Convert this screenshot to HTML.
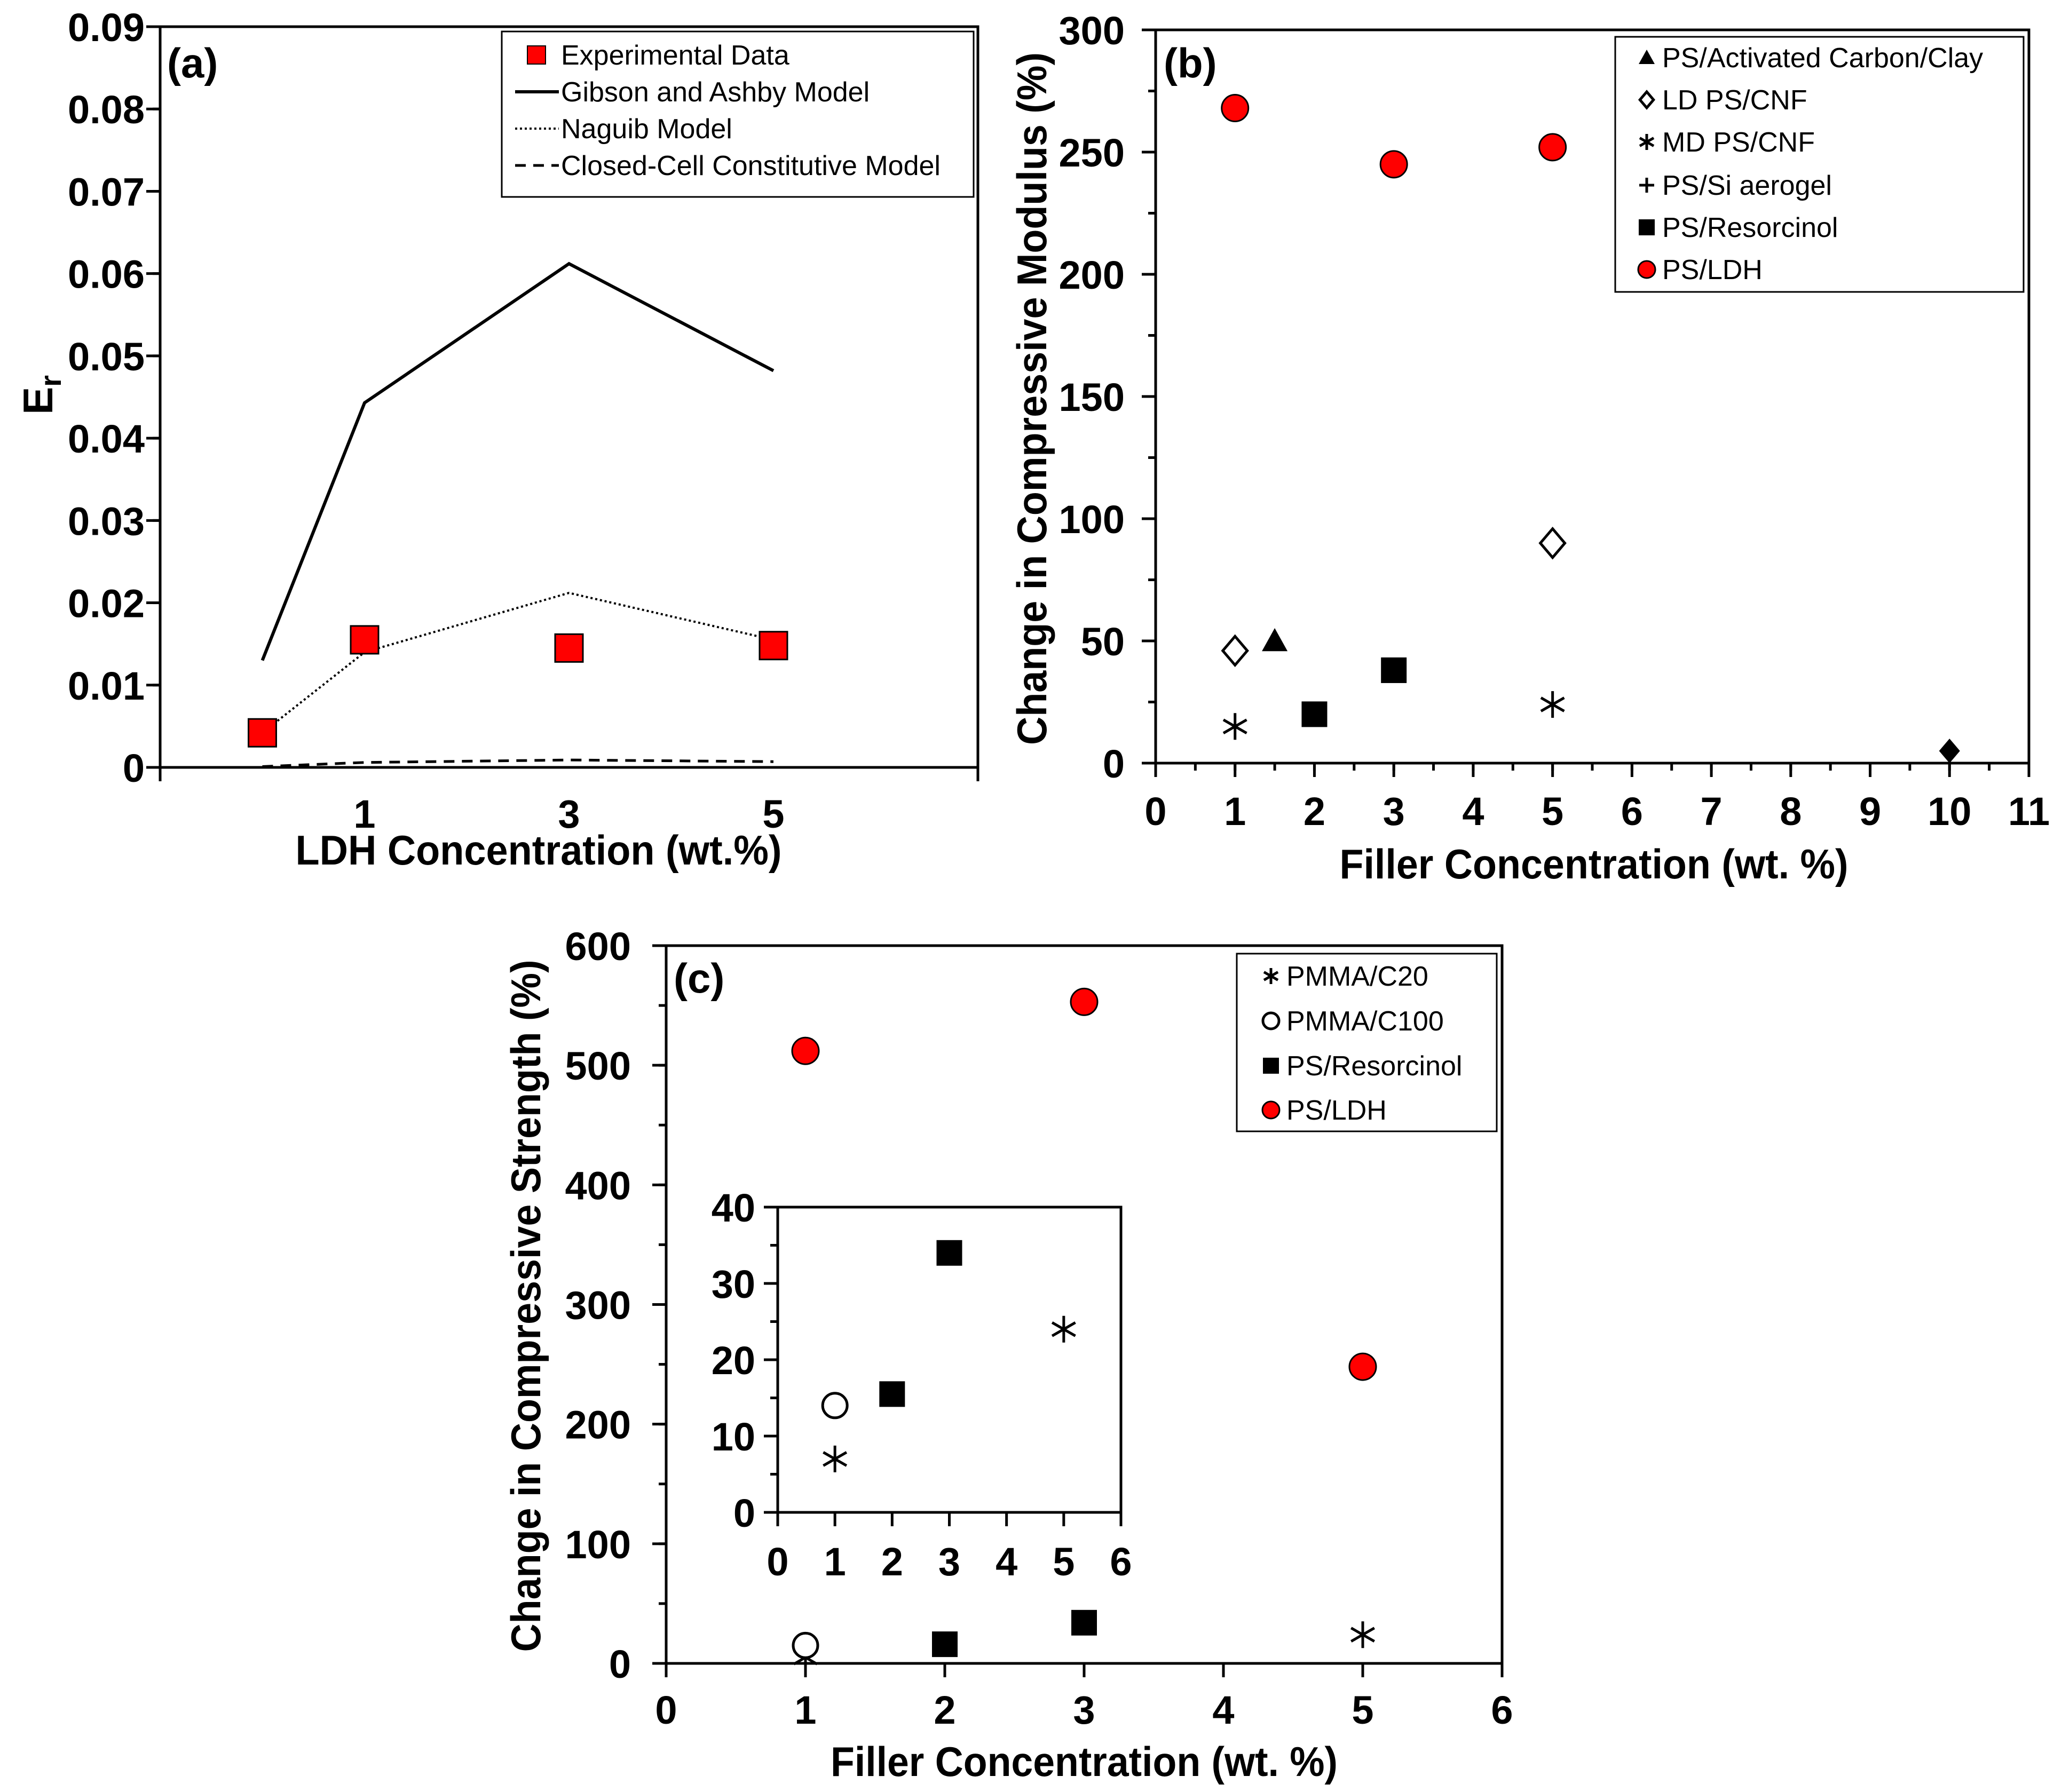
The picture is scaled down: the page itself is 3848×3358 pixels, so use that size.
<!DOCTYPE html>
<html><head><meta charset="utf-8">
<style>
html,body{margin:0;padding:0;background:#fff;}
svg{display:block;font-family:"Liberation Sans",Arial,sans-serif;}
.tk{font-weight:bold;font-size:74px;}
.tt{font-weight:bold;font-size:78px;}
.lg{font-size:52px;}
</style></head>
<body>
<svg id="fig" width="3848" height="3358" viewBox="0 0 3848 3358" xmlns="http://www.w3.org/2000/svg">
<rect x="0" y="0" width="3848" height="3358" fill="#fff"/>
<g id="pa"></g>
<g id="pb"></g>
<g id="pc"></g>
<g id="pi"></g>

<text class="tt" x="313" y="145" font-size="84">(a)</text>
<text class="tt" x="2180" y="145" font-size="84">(b)</text>
<text class="tt" x="1262" y="1860" font-size="84">(c)</text>

<text class="tt" x="1009" y="1620" text-anchor="middle" textLength="911" lengthAdjust="spacingAndGlyphs">LDH Concentration (wt.%)</text>
<text class="tt" transform="translate(98,740) rotate(-90)" text-anchor="middle" font-size="86">E<tspan font-size="56" dy="16">r</tspan></text>

<text class="tt" x="2986" y="1646" text-anchor="middle" textLength="953" lengthAdjust="spacingAndGlyphs">Filler Concentration (wt. %)</text>
<text class="tt" transform="translate(1960,747) rotate(-90)" text-anchor="middle" textLength="1298" lengthAdjust="spacingAndGlyphs">Change in Compressive Modulus (%)</text>

<text class="tt" x="2031" y="3328" text-anchor="middle" textLength="950" lengthAdjust="spacingAndGlyphs">Filler Concentration (wt. %)</text>
<text class="tt" transform="translate(1012,2447) rotate(-90)" text-anchor="middle" textLength="1297" lengthAdjust="spacingAndGlyphs">Change in Compressive Strength (%)</text>

<g>
<rect x="940" y="59" width="884" height="310" fill="#fff" stroke="#000" stroke-width="3"/>
<rect x="988" y="86" width="34" height="34" fill="#ff0000" stroke="#000" stroke-width="2"/>
<text class="lg" x="1051" y="121">Experimental Data</text>
<line x1="965" y1="172" x2="1047" y2="172" stroke="#000" stroke-width="6"/>
<text class="lg" x="1051" y="190">Gibson and Ashby Model</text>
<line x1="965" y1="241" x2="1047" y2="241" stroke="#000" stroke-width="4" stroke-dasharray="4 5"/>
<text class="lg" x="1051" y="259">Naguib Model</text>
<line x1="965" y1="310" x2="1047" y2="310" stroke="#000" stroke-width="5" stroke-dasharray="20 14"/>
<text class="lg" x="1051" y="328">Closed-Cell Constitutive Model</text>
</g>
<g id="lgb">
<rect x="3026" y="69" width="765" height="478" fill="#fff" stroke="#000" stroke-width="3"/>
<text class="lg" x="3114" y="126">PS/Activated Carbon/Clay</text>
<text class="lg" x="3114" y="205">LD PS/CNF</text>
<text class="lg" x="3114" y="284">MD PS/CNF</text>
<text class="lg" x="3114" y="365">PS/Si aerogel</text>
<text class="lg" x="3114" y="444">PS/Resorcinol</text>
<text class="lg" x="3114" y="523">PS/LDH</text>
</g>
<g id="lgc">
<rect x="2317" y="1787" width="487" height="333" fill="#fff" stroke="#000" stroke-width="3"/>
<text class="lg" x="2410" y="1847">PMMA/C20</text>
<text class="lg" x="2410" y="1931">PMMA/C100</text>
<text class="lg" x="2410" y="2015">PS/Resorcinol</text>
<text class="lg" x="2410" y="2098">PS/LDH</text>
</g>
</svg>
<script>
const aX = [0, 1, 3, 5];
const aExp = [0.0042, 0.0155, 0.0145, 0.0148];
const aGibson = [0.013, 0.0443, 0.0612, 0.0482];
const aNaguib = [0.0042, 0.014, 0.0212, 0.0155];
const aClosed = [0.0001, 0.0006, 0.0009, 0.0007];
const aYTicks = ["0","0.01","0.02","0.03","0.04","0.05","0.06","0.07","0.08","0.09"];
const aXTicks = ["1","3","5"];
const bActX = [1.5];       const bActY = [50];
const bLdX = [1, 5];       const bLdY = [46, 90];
const bMdX = [1, 5];       const bMdY = [15, 24];
const bSiX = [10];         const bSiY = [5];
const bResX = [2, 3];      const bResY = [20, 38];
const bLdhX = [1, 3, 5];   const bLdhY = [268, 245, 252];
const bYTicks = ["0","50","100","150","200","250","300"];
const bXTicks = ["0","1","2","3","4","5","6","7","8","9","10","11"];
const cC20X = [1, 5];      const cC20Y = [5, 24];
const cC100X = [1];        const cC100Y = [15];
const cResX = [2, 3];      const cResY = [16, 34];
const cLdhX = [1, 3, 5];   const cLdhY = [512, 553, 248];
const cYTicks = ["0","100","200","300","400","500","600"];
const cXTicks = ["0","1","2","3","4","5","6"];
const iC20X = [1, 5];      const iC20Y = [7, 24];
const iC100X = [1];        const iC100Y = [14];
const iResX = [2, 3];      const iResY = [15.5, 34];
const iYTicks = ["0","10","20","30","40"];
const iXTicks = ["0","1","2","3","4","5","6"];

const NS = "http://www.w3.org/2000/svg";
function mk(parent, tag, attrs){
  const e = document.createElementNS(NS, tag);
  for (const k in attrs) e.setAttribute(k, attrs[k]);
  parent.appendChild(e);
  return e;
}
function scale(d0,d1,r0,r1){ return v => r0 + (v-d0)/(d1-d0)*(r1-r0); }
function frame(g, L, R, T, B){
  const f = mk(g, 'rect', {x:L, y:T, width:R-L, height:B-T, fill:'none', stroke:'#000', 'stroke-width':5});
  
  
}
function yAxis(g, ys, L, vals, labels, minorStep, lo, hi, labelX, fs){
  for (let v = lo; v <= hi + 1e-9; v += minorStep){
    const t = mk(g, 'line', {x1:L-14, x2:L, y1:ys(v), y2:ys(v), stroke:'#000', 'stroke-width':5});
    
    
  }
  vals.forEach((v,i)=>{
    const t = mk(g, 'line', {x1:L-26, x2:L, y1:ys(v), y2:ys(v), stroke:'#000', 'stroke-width':5});
    
    
    const tx = mk(g, 'text', {x:labelX, y:ys(v)+27, 'text-anchor':'end', class:'tk', 'font-size':fs});
    tx.textContent = labels[i];
    
    
  });
}
function xAxis(g, xs, B, vals, labels, minorStep, lo, hi, labelY, fs, tickVals){
  if (minorStep){
    for (let v = lo; v <= hi + 1e-9; v += minorStep){
      const t = mk(g, 'line', {x1:xs(v), x2:xs(v), y1:B, y2:B+14, stroke:'#000', 'stroke-width':5});
      
      
    }
  }
  (tickVals||vals).forEach(v=>{
    const t = mk(g, 'line', {x1:xs(v), x2:xs(v), y1:B, y2:B+26, stroke:'#000', 'stroke-width':5});
    
    
  });
  vals.forEach((v,i)=>{
    const tx = mk(g, 'text', {x:xs(v), y:labelY+27, 'text-anchor':'middle', class:'tk', 'font-size':fs});
    tx.textContent = labels[i];
    
    
  });
}
function marker(g, type, cx, cy, s, name){
  const h = s/2;
  let e;
  if (type==='redsq') e = mk(g,'rect',{x:cx-h,y:cy-h,width:s,height:s,fill:'#ff0000',stroke:'#000','stroke-width':3});
  else if (type==='sq') e = mk(g,'rect',{x:cx-h,y:cy-h,width:s,height:s,fill:'#000'});
  else if (type==='redc') e = mk(g,'circle',{cx:cx,cy:cy,r:h,fill:'#ff0000',stroke:'#000','stroke-width':3});
  else if (type==='oc') e = mk(g,'circle',{cx:cx,cy:cy,r:h,fill:'#fff',stroke:'#000','stroke-width':5});
  else if (type==='tri') e = mk(g,'polygon',{points:`${cx},${cy-h} ${cx+h},${cy+h*0.8} ${cx-h},${cy+h*0.8}`,fill:'#000'});
  else if (type==='od') e = mk(g,'polygon',{points:`${cx},${cy-h} ${cx+h*0.85},${cy} ${cx},${cy+h} ${cx-h*0.85},${cy}`,fill:'#fff',stroke:'#000','stroke-width':5});
  else if (type==='fd') e = mk(g,'polygon',{points:`${cx},${cy-h} ${cx+h*0.85},${cy} ${cx},${cy+h} ${cx-h*0.85},${cy}`,fill:'#000'});
  else if (type==='plus') e = mk(g,'path',{d:`M${cx-h} ${cy}H${cx+h}M${cx} ${cy-h}V${cy+h}`,stroke:'#000','stroke-width':5,fill:'none'});
  else if (type==='ast') e = mk(g,'path',{d:`M${cx} ${cy-h}V${cy+h}M${cx-h*0.87} ${cy-h*0.5}L${cx+h*0.87} ${cy+h*0.5}M${cx-h*0.87} ${cy+h*0.5}L${cx+h*0.87} ${cy-h*0.5}`,stroke:'#000','stroke-width':5,fill:'none'});
  
  
  return e;
}
function series(g, type, xsArr, ysArr, xs, ys, s, name){
  xsArr.forEach((x,i)=> marker(g, type, xs(x), ys(ysArr[i]), s, name));
}
function line(g, xsArr, ysArr, xs, ys, attrs, name){
  const pts = xsArr.map((x,i)=> xs(x)+','+ys(ysArr[i])).join(' ');
  const a = Object.assign({points:pts, fill:'none', stroke:'#000'}, attrs);
  const e = mk(g, 'polyline', a);
  
  
}
(function(){
  const g = document.getElementById('pa');
  const L=300,R=1832,T=50,B=1438;
  const xs = scale(-1,7,L,R), ys = scale(0,0.09,B,T);
  frame(g,L,R,T,B);
  yAxis(g, ys, L, aYTicks.map((_,i)=>i*0.01), aYTicks, 0.01, 0, 0.09, 271, 74);
  xAxis(g, xs, B, [1,3,5], aXTicks, null, 0, 0, 1524, 74, [-1,7]);
  line(g, aX, aGibson, xs, ys, {'stroke-width':6}, 'gibson-ashby-line');
  line(g, aX, aNaguib, xs, ys, {'stroke-width':4,'stroke-dasharray':'4 5'}, 'naguib-line');
  line(g, aX, aClosed, xs, ys, {'stroke-width':5,'stroke-dasharray':'20 14'}, 'closed-cell-line');
  series(g, 'redsq', aX, aExp, xs, ys, 52, 'experimental-point');
})();
(function(){
  const g = document.getElementById('pb');
  const L=2165,R=3801,T=56,B=1430;
  const xs = scale(0,11,L,R), ys = scale(0,300,B,T);
  frame(g,L,R,T,B);
  yAxis(g, ys, L, bYTicks.map((_,i)=>i*50), bYTicks, 25, 0, 300, 2107, 74);
  xAxis(g, xs, B, bXTicks.map((_,i)=>i), bXTicks, 0.5, 0, 11, 1519, 74);
  series(g,'tri', bActX, bActY, xs, ys, 48, 'activated-carbon-point');
  series(g,'od', bLdX, bLdY, xs, ys, 54, 'ld-cnf-point');
  series(g,'ast', bMdX, bMdY, xs, ys, 50, 'md-cnf-point');
  series(g,'fd', bSiX, bSiY, xs, ys, 46, 'si-aerogel-point');
  series(g,'sq', bResX, bResY, xs, ys, 48, 'resorcinol-point-b');
  series(g,'redc', bLdhX, bLdhY, xs, ys, 50, 'ldh-point-b');
  const lg = document.getElementById('lgb');
  marker(lg,'tri',3085,108,30,'legend-marker-activated-carbon');
  marker(lg,'od',3085,187,30,'legend-marker-ld-cnf');
  marker(lg,'ast',3085,266,30,'legend-marker-md-cnf');
  marker(lg,'plus',3085,347,28,'legend-marker-si-aerogel');
  marker(lg,'sq',3085,426,30,'legend-marker-resorcinol-b');
  marker(lg,'redc',3085,505,32,'legend-marker-ldh-b');
})();
(function(){
  const g = document.getElementById('pc');
  const L=1248,R=2814,T=1772,B=3117;
  const xs = scale(0,6,L,R), ys = scale(0,600,B,T);
  frame(g,L,R,T,B);
  yAxis(g, ys, L, cYTicks.map((_,i)=>i*100), cYTicks, 50, 0, 600, 1182, 74);
  xAxis(g, xs, B, cXTicks.map((_,i)=>i), cXTicks, null, 0, 6, 3203, 74);
  series(g,'ast', cC20X, cC20Y, xs, ys, 50, 'pmma-c20-point');
  series(g,'oc', cC100X, cC100Y, xs, ys, 46, 'pmma-c100-point');
  series(g,'sq', cResX, cResY, xs, ys, 48, 'resorcinol-point-c');
  series(g,'redc', cLdhX, cLdhY, xs, ys, 50, 'ldh-point-c');
  const lg = document.getElementById('lgc');
  marker(lg,'ast',2381,1829,30,'legend-marker-pmma-c20');
  marker(lg,'oc',2381,1913,30,'legend-marker-pmma-c100');
  marker(lg,'sq',2381,1997,30,'legend-marker-resorcinol-c');
  marker(lg,'redc',2381,2080,32,'legend-marker-ldh-c');
})();
(function(){
  const g = document.getElementById('pi');
  const L=1457,R=2100,T=2262,B=2834;
  const xs = scale(0,6,L,R), ys = scale(0,40,B,T);
  const bg = mk(g,'rect',{x:L,y:T,width:R-L,height:B-T,fill:'#fff'});
  
  
  frame(g,L,R,T,B);
  yAxis(g, ys, L, iYTicks.map((_,i)=>i*10), iYTicks, 5, 0, 40, 1415, 72);
  xAxis(g, xs, B, iXTicks.map((_,i)=>i), iXTicks, null, 0, 6, 2925, 72);
  series(g,'ast', iC20X, iC20Y, xs, ys, 50, 'inset-pmma-c20-point');
  series(g,'oc', iC100X, iC100Y, xs, ys, 46, 'inset-pmma-c100-point');
  series(g,'sq', iResX, iResY, xs, ys, 48, 'inset-resorcinol-point');
})();
</script>
</body></html>
